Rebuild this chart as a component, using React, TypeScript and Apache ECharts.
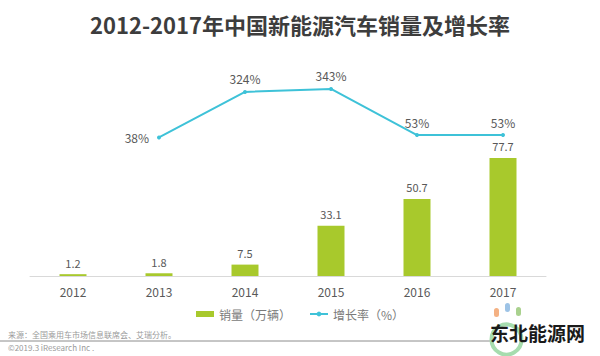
import React, { useEffect, useRef } from "react";
import * as echarts from "echarts";

const years = ["2012", "2013", "2014", "2015", "2016", "2017"];
const sales = [1.2, 1.8, 7.5, 33.1, 50.7, 77.7];
const growth: (number | null)[] = [null, 38, 324, 343, 53, 53];
const titleText = "2012-2017年中国新能源汽车销量及增长率";
const salesName = "销量（万辆）";
const growthName = "增长率（%）";
const sourceText = "来源：全国乘用车市场信息联席会、艾瑞分析。";
const copyText = "©2019.3 iResearch Inc .";

const FONT = "'Noto Sans CJK SC', 'Noto Sans', sans-serif";

export default function App() {
  const ref = useRef<HTMLDivElement>(null);
  useEffect(() => {
    if (!ref.current) return;
    const chart = echarts.init(ref.current, null, { renderer: "svg" });
    const growthData = growth.map((v, i) =>
      i === 1 ? { value: v, label: { position: "left", distance: 8 } } : v
    );
    chart.setOption({
      animation: false,
      backgroundColor: "#ffffff",
      textStyle: { fontFamily: FONT },
      title: {
        text: titleText,
        left: "center",
        top: 8,
        textStyle: { fontSize: 22, fontWeight: "bold", color: "#3d3d3d", fontFamily: FONT },
      },
      legend: {
        top: 303,
        left: "center",
        itemGap: 18,
        itemWidth: 18,
        itemHeight: 6,
        textStyle: { fontSize: 12, color: "#7a7a7a", fontFamily: FONT },
        data: [
          { name: salesName, icon: "rect" },
          { name: growthName },
        ],
      },
      grid: { left: 30, right: 54, top: 80, bottom: 80 },
      xAxis: {
        type: "category",
        data: years,
        axisLine: { lineStyle: { color: "#d9d9d9", width: 1 } },
        axisTick: { show: false },
        axisLabel: { color: "#595959", fontSize: 12, margin: 9, fontFamily: FONT },
      },
      yAxis: [
        { type: "value", min: 0, max: 129, show: false, splitLine: { show: false } },
        { type: "value", min: -833, max: 399, show: false, splitLine: { show: false } },
      ],
      series: [
        {
          name: salesName,
          type: "bar",
          data: sales,
          barWidth: 27,
          itemStyle: { color: "#a8c92c" },
          label: { show: true, position: "top", color: "#595959", fontSize: 11, distance: 6, fontFamily: FONT },
        },
        {
          name: growthName,
          type: "line",
          yAxisIndex: 1,
          data: growthData,
          symbol: "circle",
          symbolSize: 4,
          lineStyle: { color: "#3ec2d8", width: 2 },
          itemStyle: { color: "#3ec2d8" },
          label: {
            show: true,
            position: "top",
            color: "#595959",
            fontSize: 12,
            distance: 5,
            fontFamily: FONT,
            formatter: "{c}%",
          },
        },
      ],
      graphic: [
        {
          type: "text",
          left: 8,
          top: 330,
          style: { text: sourceText, fontSize: 8, fill: "#9a9a9a", fontFamily: FONT },
        },
        {
          type: "line",
          shape: { x1: 0, y1: 341, x2: 492, y2: 341 },
          style: { stroke: "#8c8c8c", lineWidth: 1 },
        },
        {
          type: "text",
          left: 8,
          top: 343,
          style: { text: copyText, fontSize: 8, fill: "#9a9a9a", fontFamily: FONT },
        },
        {
          type: "circle",
          left: 489,
          top: 322,
          shape: { r: 15 },
          style: { stroke: "#a6dcae", lineWidth: 4, fill: "none" },
        },
        {
          type: "rect",
          left: 494,
          top: 308,
          shape: { width: 5, height: 9, r: 2.5 },
          style: { fill: "#f4b183" },
        },
        {
          type: "rect",
          left: 505,
          top: 303,
          shape: { width: 5, height: 9, r: 2.5 },
          style: { fill: "#9dc3e6" },
        },
        {
          type: "rect",
          left: 516,
          top: 307,
          shape: { width: 5, height: 9, r: 2.5 },
          style: { fill: "#a9d18e" },
        },
        {
          type: "text",
          left: 490,
          top: 323,
          style: {
            text: "东北能源网",
            fontSize: 19,
            fontWeight: "bold",
            fill: "#1a1a1a",
            fontFamily: FONT,
            backgroundColor: "rgba(255,255,255,0)",
          },
        },
      ],
    });
    return () => chart.dispose();
  }, []);
  return <div ref={ref} style={{ width: 600, height: 356, position: "absolute", left: 0, top: 0 }} />;
}
